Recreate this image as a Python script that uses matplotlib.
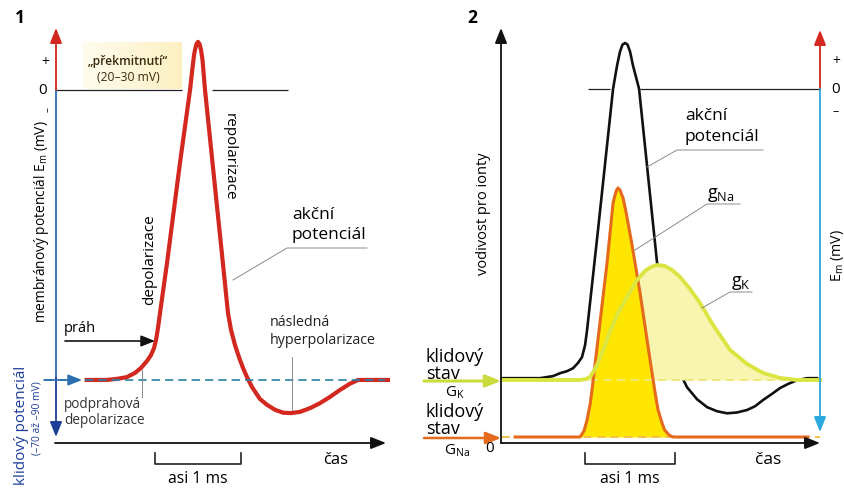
import matplotlib
matplotlib.use("Agg")
import matplotlib.pyplot as plt
import numpy as np

plt.rcParams["font.family"] = ["Open Sans", "DejaVu Sans"]
plt.rcParams["mathtext.fontset"] = "custom"
plt.rcParams["mathtext.rm"] = "Open Sans"
plt.rcParams["mathtext.it"] = "Open Sans:italic"

W, H = 845, 491

# panel 1: action potential, time (ms) vs membrane potential (mV)
ap1_t = [0.345, 0.58, 0.709, 0.814, 0.907, 0.977, 1.047, 1.093, 1.128, 1.151, 1.174,
         1.198, 1.279, 1.430, 1.547, 1.570, 1.593, 1.605, 1.622, 1.640, 1.657, 1.674,
         1.692, 1.721, 1.849, 1.919, 1.988, 2.023, 2.070, 2.116, 2.163, 2.209, 2.267,
         2.360, 2.442, 2.535, 2.628, 2.721, 2.826, 2.942, 3.058, 3.174, 3.291, 3.407,
         3.500, 3.605, 3.849]
ap1_v = [-70, -70, -69.7, -69.3, -68.3, -67.1, -65.4, -64.0, -62.3, -60.4, -57.5,
         -53.8, -41.8, -17.6, 0, 4.3, 8.4, 9.7, 11.1, 11.6, 11.1, 9.7,
         7.2, 0, -25.8, -39.8, -53.8, -57.9, -61.6, -64.5, -67.1, -69.3, -71.7,
         -74.6, -76.0, -77.2, -77.9, -78.0, -77.7, -76.8, -75.6, -74.1, -72.4, -70.9,
         -70.0, -70, -70]
REST_MV = -70

# panel 2: action potential again plus ion conductances (relative units)
ap2_t = [0.00, 0.426, 0.57, 0.648, 0.726, 0.792, 0.848, 0.892, 0.926, 0.948, 1.07,
         1.237, 1.281, 1.314, 1.342, 1.37, 1.398, 1.426, 1.459, 1.526, 1.726, 1.837,
         1.903, 1.981, 2.059, 2.17, 2.281, 2.392, 2.503, 2.614, 2.726, 2.814, 2.903,
         3.003, 3.092, 3.181, 3.281, 3.392, 3.503]
ap2_v = [-70, -70, -69.5, -68.8, -68.3, -67.6, -66.3, -64.9, -62.0, -58.4, -34.1,
         0, 5.6, 9.0, 10.7, 11.1, 10.7, 9.0, 5.6, 0, -42.1, -58.4,
         -63.9, -68.8, -72.2, -75.1, -77.0, -78.0, -78.5, -78.3, -77.7, -76.8, -75.3,
         -73.8, -72.4, -71.4, -70.5, -70.0, -70.0]
gna_t = [0.148, 0.87, 0.914, 0.948, 0.981, 1.003, 1.17, 1.237, 1.259, 1.276, 1.292,
         1.314, 1.348, 1.381, 1.448, 1.537, 1.648, 1.703, 1.737, 1.781, 1.81, 1.859,
         1.903, 3.403]
gna = [0.6, 0.6, 1.2, 2.3, 3.8, 5.3, 18.0, 24.0, 24.8, 25.3, 25.5,
       25.3, 24.5, 23.1, 19.8, 15.0, 8.3, 5.1, 3.3, 2.0, 1.3, 0.8,
       0.6, 0.6]
gk_t = [0.00, 0.87, 0.937, 0.981, 1.037, 1.092, 1.148, 1.203, 1.292, 1.392, 1.503,
        1.592, 1.659, 1.726, 1.814, 1.892, 1.981, 2.092, 2.203, 2.348, 2.537, 2.726,
        2.903, 3.092, 3.281, 3.537]
gk = [6.3, 6.3, 6.4, 6.6, 7.4, 8.5, 9.8, 11.2, 13.0, 14.6, 16.3,
      17.2, 17.6, 17.8, 17.7, 17.3, 16.6, 15.4, 14.0, 11.8, 9.3, 7.9,
      7.0, 6.5, 6.3, 6.3]
GNA_REST, GK_REST = 0.6, 6.3

RED = "#d2281f"
BLUE = "#2a6db5"
NAVY = "#1c3c96"
SKY = "#2aa8e0"
ORANGE = "#e56a1c"
YELLOW = "#ffe600"
GK_LINE = "#dbe542"
GK_FILL = "#f8f5b0"
GRAY = "#8a8a8a"

fig = plt.figure(figsize=(W / 100, H / 100), dpi=100)

# data axes (units: ms / mV / relative conductance)
ax1 = fig.add_axes([0, 0, 420 / W, 1])
ax1.set_xlim(-0.663, 4.221)
ax1.set_ylim(-96.8, 21.7)
ax2 = fig.add_axes([420 / W, 0, 425 / W, 1])
ax2.set_xlim(-0.908, 3.814)
ax2.set_ylim(-97.3, 21.5)
ax2g = fig.add_axes([420 / W, 0, 425 / W, 1], label="g")
ax2g.set_xlim(-0.908, 3.814)
ax2g.set_ylim(-4.8, 44.3)
for a in (ax1, ax2, ax2g):
    a.axis("off")
    a.patch.set_alpha(0)

# overlay in pixel coordinates for arrows, brackets and labels
lay = fig.add_axes([0, 0, 1, 1], label="lay")
lay.set_xlim(0, W)
lay.set_ylim(H, 0)
lay.axis("off")
lay.patch.set_alpha(0)
lay.set_zorder(5)


def arrow(x0, y0, x1, y1, color, lw=1.3, ms=13):
    lay.annotate("", xy=(x1, y1), xytext=(x0, y0),
                 arrowprops=dict(arrowstyle="-|>,head_length=0.7,head_width=0.28",
                                 color=color, lw=lw, shrinkA=0, shrinkB=0,
                                 mutation_scale=ms))


def bracket(x0, x1, y, label):
    lay.plot([x0, x0, x1, x1], [y - 11, y, y, y - 11], color="#222", lw=1.2)
    lay.text((x0 + x1) / 2, y + 15, label, ha="center", va="center", fontsize=11.3)


def leader(xs, ys):
    lay.plot(xs, ys, color=GRAY, lw=0.7)


# ---------------- panel 1 ----------------
grad = np.linspace(0, 1, 100)[None, :]
lay.imshow(grad, extent=(83, 182, 89, 42), cmap=matplotlib.colors.LinearSegmentedColormap
           .from_list("y", ["#fffcee", "#fcf0c2"]), aspect="auto", zorder=0)

ax1.hlines(0, -0.01, 1.45, color="#222", lw=0.9)
ax1.hlines(0, 1.80, 2.69, color="#222", lw=0.9)
ax1.plot(ap1_t, ap1_v, color=RED, lw=3.0, solid_joinstyle="round", zorder=3)
ax1.hlines(REST_MV, -0.14, 3.81, color="#2b7fa8", lw=1.2, linestyles=(0, (5, 3)), zorder=4)

arrow(56, 90, 56, 28, RED)
lay.plot([56, 56], [90, 380], color=BLUE, lw=1.3)
arrow(56, 378, 56, 437, NAVY)
arrow(44, 380, 82, 380, "#2b6fb0", lw=1.2, ms=12)
arrow(55, 443, 386, 443, "#111")
arrow(65, 341, 155, 341, "#111", lw=1.2, ms=12)

lay.text(20, 18, "1", ha="center", va="center", fontsize=12.5, fontweight="bold")
lay.text(45, 62, "+", ha="center", va="center", fontsize=10)
lay.text(43, 90, "0", ha="center", va="center", fontsize=11)
lay.text(48, 110, "–", ha="center", va="center", fontsize=7, rotation=90)
lay.text(42, 222, r"membránový potenciál E$_{\mathrm{m}}$ (mV)", ha="center", va="center",
         fontsize=9.9, rotation=90)
lay.text(22, 425, "klidový potenciál", ha="center", va="center", fontsize=11,
         rotation=90, color=NAVY)
lay.text(37, 418, "(–70 až –90 mV)", ha="center", va="center", fontsize=7.4,
         rotation=90, color=NAVY)
lay.text(128, 61, "„překmitnutí“", ha="center", va="center", fontsize=8.7,
         color="#3a2a10", fontweight="semibold")
lay.text(128, 77, "(20–30 mV)", ha="center", va="center", fontsize=8.7, color="#3a2a10")
lay.text(150, 260, "depolarizace", ha="center", va="center", fontsize=11, rotation=90)
lay.text(229, 157, "repolarizace", ha="center", va="center", fontsize=11, rotation=-90)
lay.text(292, 215, "akční", ha="left", va="center", fontsize=12.5)
lay.text(292, 235, "potenciál", ha="left", va="center", fontsize=12.5)
leader([233, 287, 367], [280, 248, 248])
lay.text(64, 329, "práh", ha="left", va="center", fontsize=10.5)
lay.text(64, 404, "podprahová", ha="left", va="center", fontsize=9.8, color="#333")
lay.text(64, 421, "depolarizace", ha="left", va="center", fontsize=9.8, color="#333")
leader([142, 142], [370, 397])
lay.text(270, 322, "následná", ha="left", va="center", fontsize=10.3, color="#222")
lay.text(270, 340, "hyperpolarizace", ha="left", va="center", fontsize=10.3, color="#222")
leader([292, 292], [357, 410])
lay.text(336, 460, "čas", ha="center", va="center", fontsize=12)
bracket(155, 241, 464, "asi 1 ms")

# ---------------- panel 2 ----------------
ax2g.fill_between(gk_t, gk, GK_REST, color=GK_FILL, lw=0, zorder=1)
ax2g.fill_between(gna_t, gna, GNA_REST, color=YELLOW, lw=0, zorder=2)
ax2g.hlines(GK_REST, 0.98, 3.54, color="#eee77a", lw=1.4, linestyles=(0, (4, 3)), zorder=2)
ax2g.hlines(GNA_REST, 0.0, 3.54, color="#f3c04a", lw=1.4, linestyles=(0, (4, 3)), zorder=2)
ax2g.plot(gna_t, gna, color=ORANGE, lw=2.2, solid_joinstyle="round", zorder=3)
ax2.hlines(0, 0.96, 1.20, color="#222", lw=0.9)
ax2.hlines(0, 1.54, 3.54, color="#222", lw=0.9)
ax2.plot(ap2_t, ap2_v, color="#111", lw=1.9, solid_joinstyle="round", zorder=4)
ax2g.plot(gk_t, gk, color=GK_LINE, lw=2.8, solid_joinstyle="round", zorder=5)
ax2g.set_zorder(ax2.get_zorder() + 1)

arrow(501, 443, 501, 28, "#111")
arrow(501, 443, 820, 443, "#111")
arrow(820, 90, 820, 30, RED)
arrow(820, 89, 820, 432, SKY)
arrow(424, 381, 501, 381, "#c9dc3c", lw=2.2, ms=13)
arrow(424, 438, 501, 438, ORANGE, lw=1.8, ms=13)

lay.text(472, 18, "2", ha="center", va="center", fontsize=12.5, fontweight="bold")
lay.text(484, 214, "vodivost pro ionty", ha="center", va="center", fontsize=10.5, rotation=90)
lay.text(836, 61, "+", ha="center", va="center", fontsize=10)
lay.text(836, 89, "0", ha="center", va="center", fontsize=11)
lay.text(836, 112, "–", ha="center", va="center", fontsize=9)
lay.text(838, 256, r"E$_{\mathrm{m}}$ (mV)", ha="center", va="center", fontsize=10.3, rotation=90)
lay.text(685, 116, "akční", ha="left", va="center", fontsize=12.5)
lay.text(685, 137, "potenciál", ha="left", va="center", fontsize=12.5)
leader([647, 677, 763], [167, 150, 150])
lay.text(707, 195, r"g$_{\mathrm{Na}}$", ha="left", va="center", fontsize=13)
leader([635, 707, 740], [250, 204, 204])
lay.text(731, 283, r"g$_{\mathrm{K}}$", ha="left", va="center", fontsize=13)
leader([702, 730, 752], [308, 292, 292])
lay.text(426, 357, "klidový", ha="left", va="center", fontsize=13)
lay.text(426, 374, "stav", ha="left", va="center", fontsize=13)
lay.text(455, 393, r"G$_{\mathrm{K}}$", ha="center", va="center", fontsize=11)
lay.text(426, 412, "klidový", ha="left", va="center", fontsize=13)
lay.text(426, 429, "stav", ha="left", va="center", fontsize=13)
lay.text(457, 451, r"G$_{\mathrm{Na}}$", ha="center", va="center", fontsize=11)
lay.text(490, 448, "0", ha="center", va="center", fontsize=11)
lay.text(768, 460, "čas", ha="center", va="center", fontsize=12.5)
bracket(585, 675, 464, "asi 1 ms")

fig.savefig("out.png", dpi=100)
